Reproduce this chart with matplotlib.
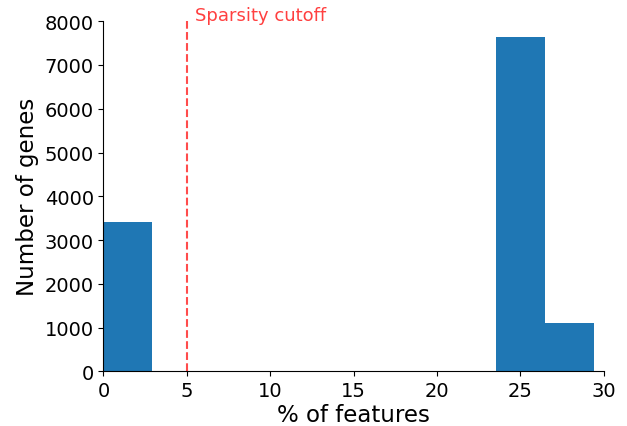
import numpy as np
import matplotlib.pyplot as plt

# histogram of gene sparsity (% of features), 10 bins
bin_edges = [0.0, 2.94, 5.88, 8.82, 11.76, 14.7, 17.64, 20.58, 23.52, 26.46, 29.4]
gene_counts = [3410, 0, 0, 0, 0, 0, 0, 0, 7630, 1115]
cutoff = 5

fig, ax = plt.subplots(figsize=(6.27, 4.27), dpi=100)

ax.hist(bin_edges[:-1], bins=bin_edges, weights=gene_counts, color='#1f77b4')

ax.axvline(cutoff, ymin=0, ymax=1.0, color='red', linestyle='--', alpha=0.7, clip_on=False)
ax.text(cutoff + 0.5, 8140, 'Sparsity cutoff', color='red', alpha=0.75, fontsize=13, va='center')

ax.set_xlim(0, 30)
ax.set_ylim(0, 8000)
ax.set_xlabel('% of features', fontsize=16.5, labelpad=2)
ax.set_ylabel('Number of genes', fontsize=16.5)
ax.tick_params(labelsize=14)
ax.spines['top'].set_visible(False)
ax.spines['right'].set_visible(False)

plt.subplots_adjust(left=0.165, right=0.963, top=0.948, bottom=0.128)
plt.savefig('out.png', dpi=100)
